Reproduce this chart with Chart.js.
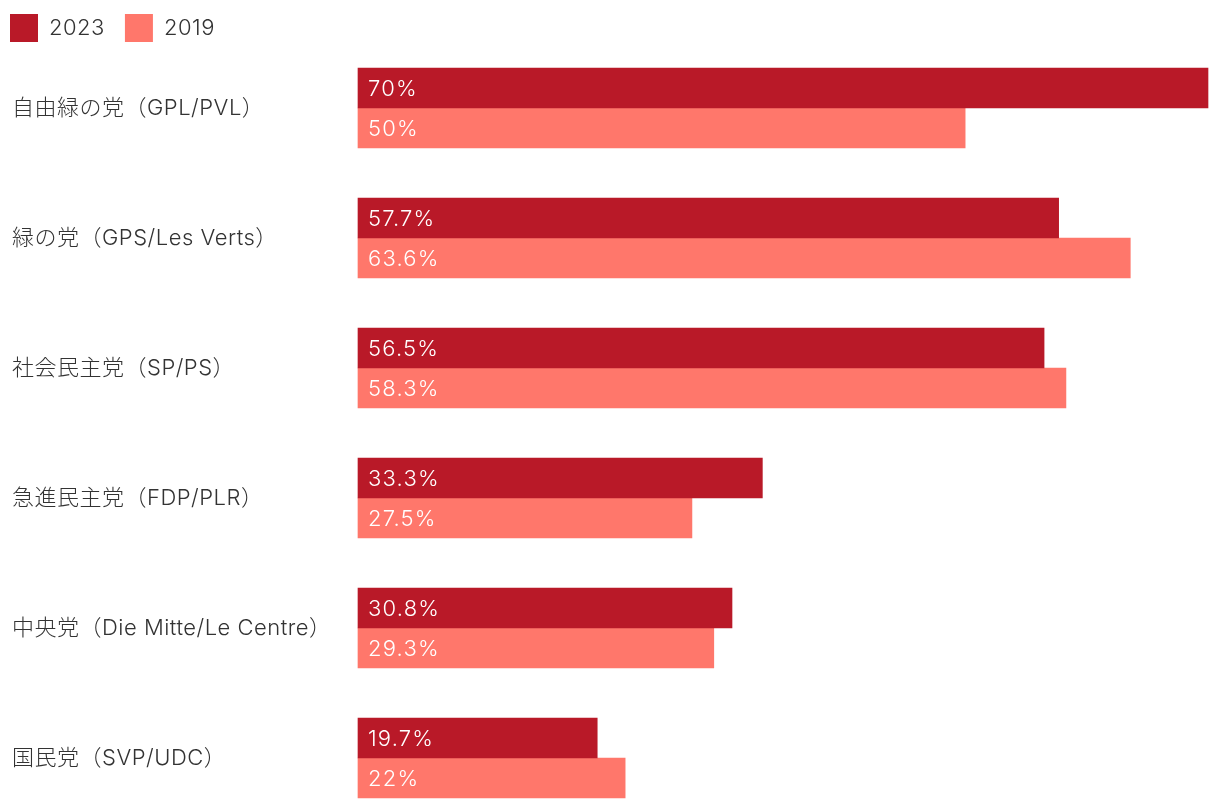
<!DOCTYPE html>
<html>
<head>
<meta charset="utf-8">
<script src="https://cdn.jsdelivr.net/npm/chart.js@4/dist/chart.umd.min.js"></script>
<style>
html,body{margin:0;padding:0;background:#fff;}
#wrap{width:1220px;height:810px;position:relative;}
</style>
</head>
<body>
<div id="wrap"><canvas id="c"></canvas></div>
<script>
const categories = [
  "自由緑の党（GPL/PVL）",
  "緑の党（GPS/Les Verts）",
  "社会民主党（SP/PS）",
  "急進民主党（FDP/PLR）",
  "中央党（Die Mitte/Le Centre）",
  "国民党（SVP/UDC）"
];
const seriesNames = ["2023", "2019"];
const values2023 = [70, 57.7, 56.5, 33.3, 30.8, 19.7];
const values2019 = [50, 63.6, 58.3, 27.5, 29.3, 22];
const colors = ["#B91928", "#FF776B"];

const FONT = "Inter, 'Noto Sans CJK JP', sans-serif";

const spacing = {
  id: 'spacing',
  beforeUpdate(chart) { chart.ctx.letterSpacing = '0.5px'; },
  beforeDraw(chart) { chart.ctx.letterSpacing = '0.5px'; }
};

const valueLabels = {
  id: 'valueLabels',
  afterDatasetsDraw(chart) {
    const ctx = chart.ctx;
    ctx.save();
    ctx.letterSpacing = '1.2px';
    ctx.font = "300 22px " + FONT;
    ctx.fillStyle = "#ffffff";
    ctx.textAlign = "left";
    ctx.textBaseline = "middle";
    chart.data.datasets.forEach((ds, di) => {
      const meta = chart.getDatasetMeta(di);
      meta.data.forEach((el, i) => {
        const v = ds.data[i];
        ctx.fillText(String(v) + "%", el.base + 10, el.y + 1);
      });
    });
    ctx.restore();
  }
};

const shiftYLabels = {
  id: 'shiftYLabels',
  afterLayout(chart) {
    const y = chart.scales.y;
    y.left = 12;
  }
};

new Chart(document.getElementById('c'), {
  type: 'bar',
  data: {
    labels: categories,
    datasets: [
      { label: seriesNames[0], data: values2023, backgroundColor: colors[0], borderWidth: 0, barThickness: 40, clip: false },
      { label: seriesNames[1], data: values2019, backgroundColor: colors[1], borderWidth: 0, barThickness: 40, clip: false }
    ]
  },
  options: {
    indexAxis: 'y',
    responsive: true,
    maintainAspectRatio: false,
    animation: false,
    layout: { padding: { top: -6, left: -10, right: 12, bottom: 52 } },
    scales: {
      x: {
        position: 'top',
        min: 0, max: 70,
        grid: { display: false },
        border: { display: false },
        ticks: { display: false },
        afterFit(s) { s.height = 56; }
      },
      y: {
        offset: false,
        grid: { display: false },
        border: { display: false },
        ticks: {
          crossAlign: 'far',
          color: '#333333',
          font: { family: FONT, size: 22, weight: 300 }
        },
        afterFit(s) { s.width = 368; }
      }
    },
    plugins: {
      legend: {
        position: 'top',
        align: 'start',
        labels: {
          boxWidth: 28,
          boxHeight: 28,
          padding: 20,
          color: '#333333',
          font: { family: FONT, size: 22, weight: 300 }
        }
      },
      tooltip: { enabled: false }
    }
  },
  plugins: [spacing, valueLabels, shiftYLabels]
});
</script>
</body>
</html>
